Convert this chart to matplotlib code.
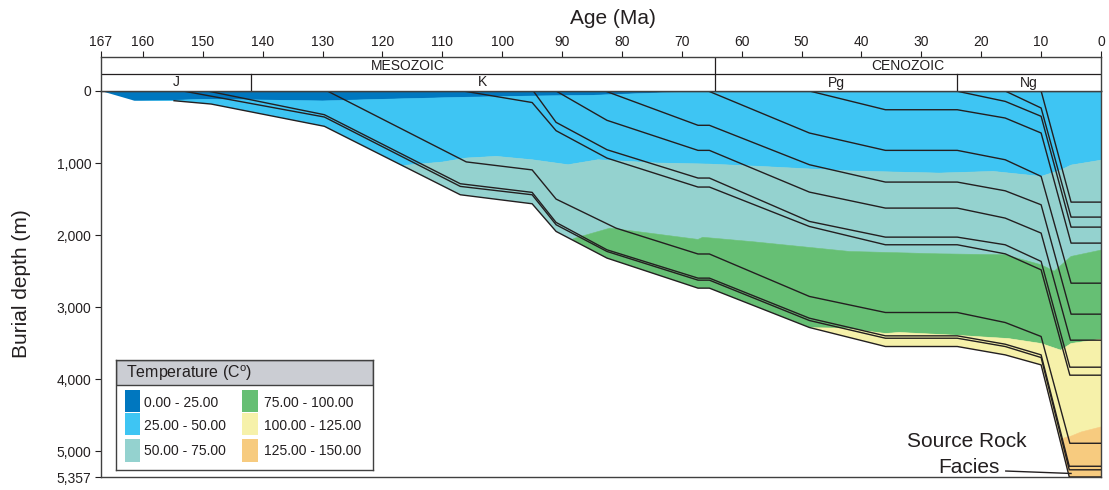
import matplotlib
matplotlib.use("Agg")
import matplotlib.pyplot as plt
from matplotlib.patches import Polygon, Rectangle

plt.rcParams['font.family'] = ['Liberation Sans', 'DejaVu Sans']
plt.rcParams['mathtext.fontset'] = 'custom'
plt.rcParams['mathtext.rm'] = 'Liberation Sans'

# ---------------- data ----------------
age_ticks = [167, 160, 150, 140, 130, 120, 110, 100, 90, 80, 70, 60, 50, 40, 30, 20, 10, 0]
depth_ticks = [0, 1000, 2000, 3000, 4000, 5000, 5357]
depth_ticklabels = ["0", "1,000", "2,000", "3,000", "4,000", "5,000", "5,357"]

era_names = ["MESOZOIC", "CENOZOIC"]
era_bounds = [(167, 64.5), (64.5, 0)]
period_names = ["J", "K", "Pg", "Ng"]
period_bounds = [(167, 142), (142, 64.5), (64.5, 24), (24, 0)]

# burial paths (age Ma, depth m)
basement_age = [167, 161.4, 154.8, 148.6, 129.7, 107, 95, 91, 82.5, 67.3, 65.4, 48.7, 36, 24, 16, 10, 5.3, 0]
basement_depth = [0, 135, 135, 181, 490, 1440, 1565, 1949, 2319, 2736, 2736, 3282, 3546, 3546, 3662, 3801, 5357, 5357]

h1_age = [153.3, 129.7, 107, 95, 91, 82.5, 67.3, 65.4, 48.7, 36, 24, 16, 10, 5.3, 0]
h1_depth = [0, 361, 1324, 1440, 1856, 2227, 2625, 2625, 3185, 3431, 3431, 3546, 3699, 5257, 5257]
h2_age = [149.2, 129.7, 107, 95, 91, 82.5, 67.3, 65.4, 48.7, 36, 24, 16, 10, 5.3, 0]
h2_depth = [0, 329, 1287, 1407, 1824, 2204, 2597, 2597, 3153, 3398, 3398, 3514, 3662, 5208, 5208]
h3_age = [129.2, 106, 95, 91, 81, 67.3, 65.4, 48.7, 36, 24, 16, 10, 5.2, 0]
h3_depth = [0, 984, 1095, 1500, 1903, 2262, 2262, 2851, 3074, 3074, 3213, 3407, 4889, 4889]
h4_age = [106.5, 95, 91, 82.5, 67.3, 65.4, 48.7, 36, 24, 16, 10, 5.2, 0]
h4_depth = [0, 160, 551, 931, 1333, 1333, 1880, 2134, 2134, 2260, 2482, 3944, 3944]
h5_age = [94.8, 91, 82.5, 67.3, 65.4, 48.7, 36, 24, 16, 10, 5.2, 0]
h5_depth = [0, 435, 815, 1208, 1208, 1810, 2028, 2028, 2134, 2365, 3833, 3833]
h6_age = [91, 82.5, 67.3, 65.4, 48.7, 36, 24, 16, 10, 5.1, 0]
h6_depth = [0, 407, 824, 824, 1403, 1625, 1625, 1764, 1972, 3458, 3458]
h7_age = [82.8, 67.3, 65.4, 48.7, 36, 24, 16, 10, 5.0, 0]
h7_depth = [0, 476, 476, 1023, 1264, 1264, 1385, 1579, 3097, 3097]
h8_age = [65.6, 48.7, 36, 24, 16, 10, 5.0, 0]
h8_depth = [0, 583, 824, 824, 954, 1185, 2667, 2667]
h9_age = [48.7, 36, 24, 16, 10, 5.0, 0]
h9_depth = [0, 260, 260, 375, 583, 2111, 2111]
h10_age = [24.2, 16, 10, 5.0, 0]
h10_depth = [0, 144, 351, 1889, 1889]
h11_age = [16, 10, 5.0, 0]
h11_depth = [0, 236, 1750, 1750]
h12_age = [10, 5.0, 0]
h12_depth = [0, 1542, 1542]

# isotherm depths (age Ma, depth m)
iso25_age = [167, 155, 150, 140, 130, 120, 107, 95, 85, 75, 65.5, 0]
iso25_depth = [150, 130, 115, 125, 138, 115, 88, 70, 60, 30, 0, 0]
iso50_age = [167, 130, 116, 110, 106, 101, 95, 89, 84, 74, 65.5, 57, 42, 27, 18, 10, 6.7, 5, 0]
iso50_depth = [2000, 1300, 1030, 986, 930, 907, 954, 1023, 954, 1000, 1014, 1046, 1110, 1139, 1116, 1185, 1097, 1028, 960]
iso75_age = [167, 95, 89, 88, 82, 75, 67.3, 66.5, 58, 42, 27, 16, 10, 7.8, 5, 0]
iso75_depth = [3000, 2300, 2100, 2046, 1903, 1977, 2060, 2030, 2093, 2227, 2260, 2273, 2412, 2500, 2296, 2208]
iso100_age = [167, 60, 50, 48.5, 43, 36, 33.7, 24.5, 15.5, 10, 6.7, 5, 0]
iso100_depth = [5000, 3900, 3400, 3285, 3292, 3365, 3351, 3389, 3435, 3504, 3597, 3504, 3444]
iso125_age = [167, 10, 7, 6, 5, 3.3, 0]
iso125_depth = [7000, 5200, 4850, 4810, 4790, 4732, 4662]

temp_labels = ["0.00 - 25.00", "25.00 - 50.00", "50.00 - 75.00",
               "75.00 - 100.00", "100.00 - 125.00", "125.00 - 150.00"]
temp_colors = ["#0077BF", "#3EC5F3", "#94D2CF", "#66BF74", "#F6F1AA", "#F7CB7F"]

# ---------------- figure ----------------
W, H = 1109, 490
fig = plt.figure(figsize=(W / 100, H / 100), dpi=100)
ink = "#231f20"

ax = fig.add_axes([101 / W, (H - 477) / H, 1000 / W, 386 / H])
ax.set_xlim(167, 0)
ax.set_ylim(5357, 0)

basin = Polygon(list(zip([167, 0], [0, 0])) + list(zip(basement_age[::-1], basement_depth[::-1])),
                closed=True, facecolor="none", edgecolor="none")
ax.add_patch(basin)

bounds = [([167, 0], [-100, -100]),
          (iso25_age, iso25_depth),
          (iso50_age, iso50_depth),
          (iso75_age, iso75_depth),
          (iso100_age, iso100_depth),
          (iso125_age, iso125_depth),
          ([167, 0], [9000, 9000])]
for i, col in enumerate(temp_colors):
    a0, d0 = bounds[i]
    a1, d1 = bounds[i + 1]
    verts = list(zip(a0, d0)) + list(zip(a1[::-1], d1[::-1]))
    p = Polygon(verts, closed=True, facecolor=col, edgecolor=col, lw=0.4, zorder=1)
    ax.add_patch(p)
    p.set_clip_path(basin)

horizons = [(h1_age, h1_depth), (h2_age, h2_depth), (h3_age, h3_depth), (h4_age, h4_depth),
            (h5_age, h5_depth), (h6_age, h6_depth), (h7_age, h7_depth), (h8_age, h8_depth),
            (h9_age, h9_depth), (h10_age, h10_depth), (h11_age, h11_depth), (h12_age, h12_depth)]
for a, d in horizons:
    ax.plot(a, d, color=ink, lw=1.0, zorder=3)
ax.plot(basement_age[2:], basement_depth[2:], color=ink, lw=1.0, zorder=3)

ax.set_yticks(depth_ticks)
ax.set_yticklabels(depth_ticklabels)
ax.tick_params(axis="y", direction="out", length=4, width=0.8, labelsize=10,
               colors=ink, pad=3)
ax.tick_params(axis="x", bottom=False, labelbottom=False)
for s in ax.spines.values():
    s.set_color("#404040")
    s.set_linewidth(1.0)

# annotation
ax.text(22.4, 4861, "Source Rock", fontsize=15, ha="center", va="center", color=ink)
ax.text(22.0, 5222, "Facies", fontsize=15, ha="center", va="center", color=ink)
ax.plot([15.9, 5.0], [5274, 5308], color=ink, lw=1.0, zorder=4)

# labels
fig.text(22 / W, 1 - 284 / H, "Burial depth (m)", rotation=90, ha="center", va="center",
         fontsize=15, color=ink)
fig.text(613 / W, 1 - 18 / H, "Age (Ma)", ha="center", va="center", fontsize=15, color=ink)

# ---------------- stratigraphic band ----------------
bx = fig.add_axes([101 / W, (H - 91) / H, 1000 / W, 34 / H])
bx.set_xlim(167, 0)
bx.set_ylim(0, 2)
bx.axhline(1, color=ink, lw=0.9)
for name, (a, b) in zip(era_names, era_bounds):
    bx.text((a + b) / 2, 1.5, name, ha="center", va="center", fontsize=10, color=ink)
for name, (a, b) in zip(period_names, period_bounds):
    bx.text((a + b) / 2, 0.5, name, ha="center", va="center", fontsize=10, color=ink)
bx.plot([era_bounds[0][1]] * 2, [0, 2], color=ink, lw=0.9)
for a, b in period_bounds[1:]:
    if a != era_bounds[0][1]:
        bx.plot([a, a], [0, 1], color=ink, lw=0.9)
bx.xaxis.tick_top()
bx.set_xticks(age_ticks)
bx.set_xticklabels([str(t) for t in age_ticks])
bx.set_yticks([])
bx.tick_params(axis="x", direction="out", length=4, width=0.8, labelsize=10, colors=ink, pad=2)
for s in bx.spines.values():
    s.set_color("#404040")
    s.set_linewidth(1.0)

# ---------------- legend ----------------
lx = fig.add_axes([116 / W, (H - 470) / H, 257 / W, 110 / H])
lx.set_xlim(0, 257)
lx.set_ylim(110, 0)
lx.set_xticks([])
lx.set_yticks([])
lx.set_facecolor("white")
for s in lx.spines.values():
    s.set_color("#404040")
    s.set_linewidth(1.0)
lx.add_patch(Rectangle((0, 0), 257, 25, facecolor="#CBCDD3", edgecolor="#404040", lw=1.0))
lx.text(10, 13, r"Temperature (C$^{\mathrm{o}}$)", fontsize=11.5, ha="left", va="center", color=ink)
row_top = [30, 53, 79.4]
row_txt = [43, 65.8, 91.4]
col_x = [8.6, 126.3]
col_tx = [28.4, 147.8]
for i, (lab, col) in enumerate(zip(temp_labels, temp_colors)):
    c, r = divmod(i, 3)
    lx.add_patch(Rectangle((col_x[c], row_top[r]), 15.4, 22.3, facecolor=col, edgecolor="none"))
    lx.text(col_tx[c], row_txt[r], lab, fontsize=10, ha="left", va="center", color=ink)

fig.savefig("out.png", dpi=100)
